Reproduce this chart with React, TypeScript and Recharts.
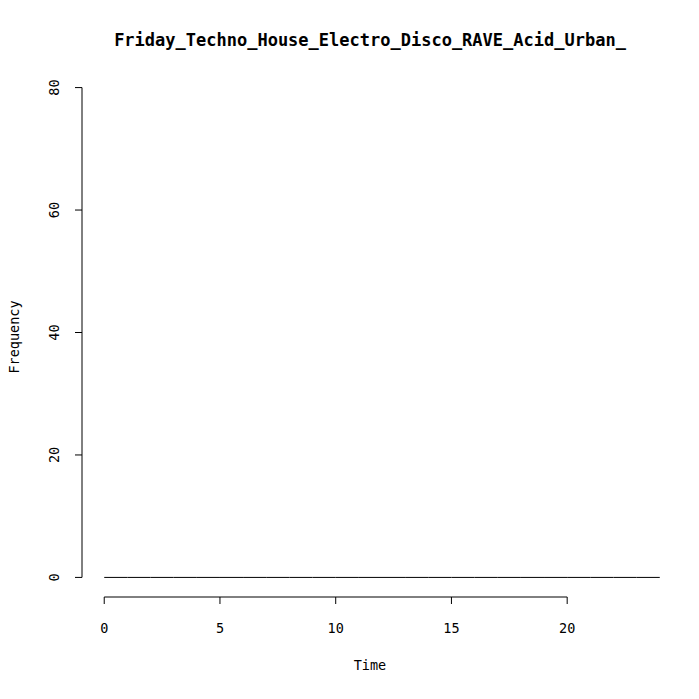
import React from "react";
import { ComposedChart, Line, XAxis, YAxis, ReferenceLine } from "recharts";

const breaks = [0, 1, 2, 3, 4, 5, 6, 7, 8, 9, 10, 11, 12, 13, 14, 15, 16, 17, 18, 19, 20, 21, 22, 23, 24];
const counts = [0, 0, 0, 0, 0, 0, 0, 0, 0, 0, 0, 0, 0, 0, 0, 0, 0, 0, 0, 0, 0, 0, 0, 0];
const xTicks = [0, 5, 10, 15, 20];
const yTicks = [0, 20, 40, 60, 80];

const data = breaks.map((b, i) => ({ x: b, y: i < counts.length ? counts[i] : counts[counts.length - 1] }));
const font = "'DejaVu Sans Mono', monospace";

const XTick = (p: any) => (
  <g>
    <line x1={p.x} x2={p.x} y1={p.y - 8} y2={p.y - 1} stroke="#000" />
    <text x={p.x} y={p.y + 28} textAnchor="middle" fontSize={13.5} fontFamily={font} fill="#000">
      {p.payload.value}
    </text>
  </g>
);

const YTick = (p: any) => (
  <g>
    <line x1={p.x + 1} x2={p.x + 8} y1={p.y} y2={p.y} stroke="#000" />
    <text x={p.x - 15} y={p.y} textAnchor="middle" fontSize={13.5} fontFamily={font} fill="#000"
      transform={`rotate(-90 ${p.x - 15} ${p.y})`}>
      {p.payload.value}
    </text>
  </g>
);

export default function App() {
  return (
    <div style={{ position: "absolute", left: 0, top: 0, width: 699, height: 699, background: "#fff" }}>
      <ComposedChart width={699} height={699} data={data}
        margin={{ top: 68, right: 17, bottom: 0, left: 0 }}>
        <XAxis dataKey="x" type="number" domain={[-0.96, 24.96]} ticks={xTicks}
          axisLine={false} tickLine={false} tick={<XTick />} height={102} allowDataOverflow />
        <YAxis type="number" domain={[-3.2, 83.2]} ticks={yTicks} axisLine={false}
          tickLine={false} tick={<YTick />} width={82} allowDataOverflow />
        <ReferenceLine segment={[{ x: 0, y: -3.2 }, { x: 20, y: -3.2 }]} stroke="#000" ifOverflow="visible" />
        <ReferenceLine segment={[{ x: -0.96, y: 0 }, { x: -0.96, y: 80 }]} stroke="#000" ifOverflow="visible" />
        <Line dataKey="y" stroke="#000" strokeWidth={1} dot={false} isAnimationActive={false} />
      </ComposedChart>
      <div style={{ position: "absolute", top: 30, left: 0, width: 740, textAlign: "center",
        fontFamily: font, fontWeight: "bold", fontSize: 17 }}>
        Friday_Techno_House_Electro_Disco_RAVE_Acid_Urban_
      </div>
      <div style={{ position: "absolute", top: 657, left: 0, width: 740, textAlign: "center",
        fontFamily: font, fontSize: 13.5 }}>
        Time
      </div>
      <div style={{ position: "absolute", top: 329, left: -28, width: 84, textAlign: "center",
        fontFamily: font, fontSize: 13.5, transform: "rotate(-90deg)" }}>
        Frequency
      </div>
    </div>
  );
}
